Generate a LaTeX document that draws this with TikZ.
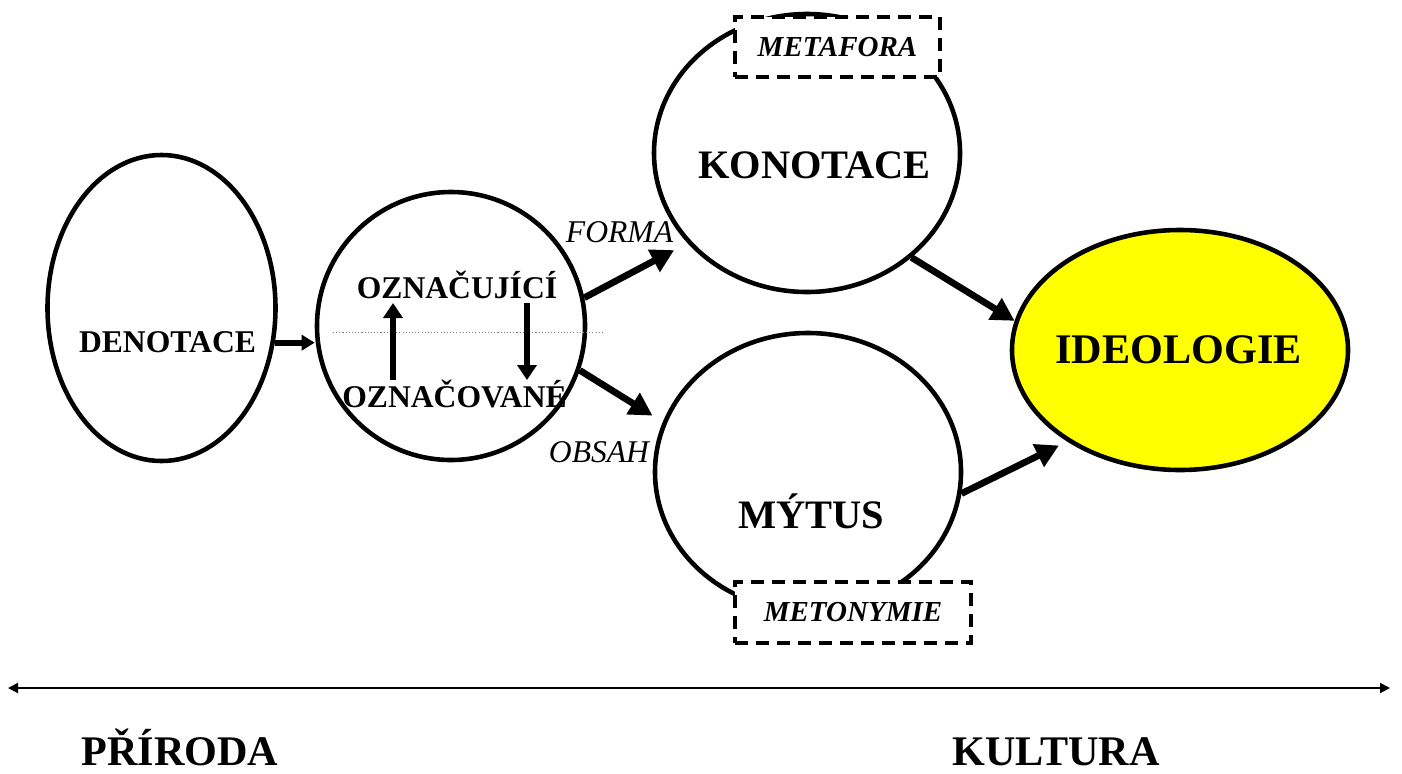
\documentclass[tikz,border=0pt]{standalone}
\usepackage{fontspec}
\setmainfont{Liberation Serif}
\usetikzlibrary{shapes.geometric,arrows.meta}

\definecolor{ideoyellow}{RGB}{255,255,0}
\newcommand{\fsz}[1]{\fontsize{#1}{#1}\selectfont}

\begin{document}
\begin{tikzpicture}[x=0.2mm, y=-0.2mm,
    bubble/.style={draw, ellipse, line width=2.6pt, inner sep=0pt},
    tagbox/.style={draw, fill=white, line width=2.4pt, dash pattern=on 2.6mm off 1.6mm, inner sep=0pt, font=\bfseries\itshape\fsz{16.5}},
    word/.style={anchor=base, inner sep=0pt, font=\bfseries\fsz{18}},
    fat/.style={line width=3.8pt, -{Triangle[length=4.6mm,width=4.8mm]}},
    thin arrow/.style={line width=1.1pt, {Triangle[length=2mm,width=2mm]}-{Triangle[length=2mm,width=2mm]}}]
  \useasboundingbox (0,0) rectangle (1402,773);

  % bubbles
  \node[bubble, minimum width=45.6mm, minimum height=61.2mm] (den) at (161.5,308) {};
  \node[bubble, circle, minimum size=53.6mm] (ozn) at (451,326) {};
  \node[bubble, minimum width=61.2mm, minimum height=55.6mm] (kon) at (807,153) {};
  \node[bubble, minimum width=61.2mm, minimum height=55.6mm] (myt) at (808,472) {};
  \node[bubble, fill=ideoyellow, minimum width=67.2mm, minimum height=48mm] (ideo) at (1180,350) {};

  % dashed tags
  \node[tagbox, minimum width=41mm, minimum height=12mm] (meta) at (837.5,47) {METAFORA};
  \node[tagbox, minimum width=47.2mm, minimum height=12.2mm] (meto) at (853,612.5) {METONYMIE};

  % texts
  \node[word] (tden) at (167.5,352) {DENOTACE};
  \node[word] (tsgr) at (457,298) {OZNAČUJÍCÍ};
  \node[word] (tsgd) at (454.5,407) {OZNAČOVANÉ};
  \node[word, font=\itshape\fsz{18}] (tforma) at (619.5,242) {FORMA};
  \node[word, font=\itshape\fsz{18}] (tobsah) at (599,462) {OBSAH};
  \node[word, font=\bfseries\fsz{23}] (tkon) at (814.5,178) {KONOTACE};
  \node[word, font=\bfseries\fsz{23}] (tmyt) at (811,528) {MÝTUS};
  \node[word, font=\bfseries\fsz{24}] (tideo) at (1178.5,363) {IDEOLOGIE};
  \node[word, font=\bfseries\fsz{24}] (tpri) at (180,765) {PŘÍRODA};
  \node[word, font=\bfseries\fsz{24}] (tkul) at (1056,765) {KULTURA};

  % inside the sign
  \coordinate (dl) at (333,332);
  \coordinate (dr) at (602,332);
  \draw[gray, line width=0.5pt, dash pattern=on 0.6pt off 1.2pt] (dl) -- (dr);
  \coordinate (upb) at (393,380);
  \coordinate (upt) at (393,303);
  \coordinate (dnt) at (527,303);
  \coordinate (dnb) at (527,380);
  \draw[line width=3.8pt, -{Triangle[length=3mm,width=3.8mm]}] (upb) -- (upt);
  \draw[line width=3.8pt, -{Triangle[length=3mm,width=3.8mm]}] (dnt) -- (dnb);

  % arrows
  \draw[line width=3.4pt, -{Triangle[length=2.6mm,width=3mm]}] (den.-17) -- (den.-17 -| ozn.west);
  \draw[fat, shorten >=3mm] (ozn.12) -- (kon.217);
  \draw[fat, shorten >=2.4mm] (ozn.-19) -- (myt.161);
  \draw[fat] (kon.-45) -- (ideo.170);
  \draw[fat, shorten >=1.8mm] (myt.-8) -- (ideo.219);

  % nature -- culture
  \coordinate (pl) at (8,688);
  \coordinate (pr) at (1390,688);
  \draw[thin arrow] (pl) -- (pr);
\end{tikzpicture}
\end{document}
